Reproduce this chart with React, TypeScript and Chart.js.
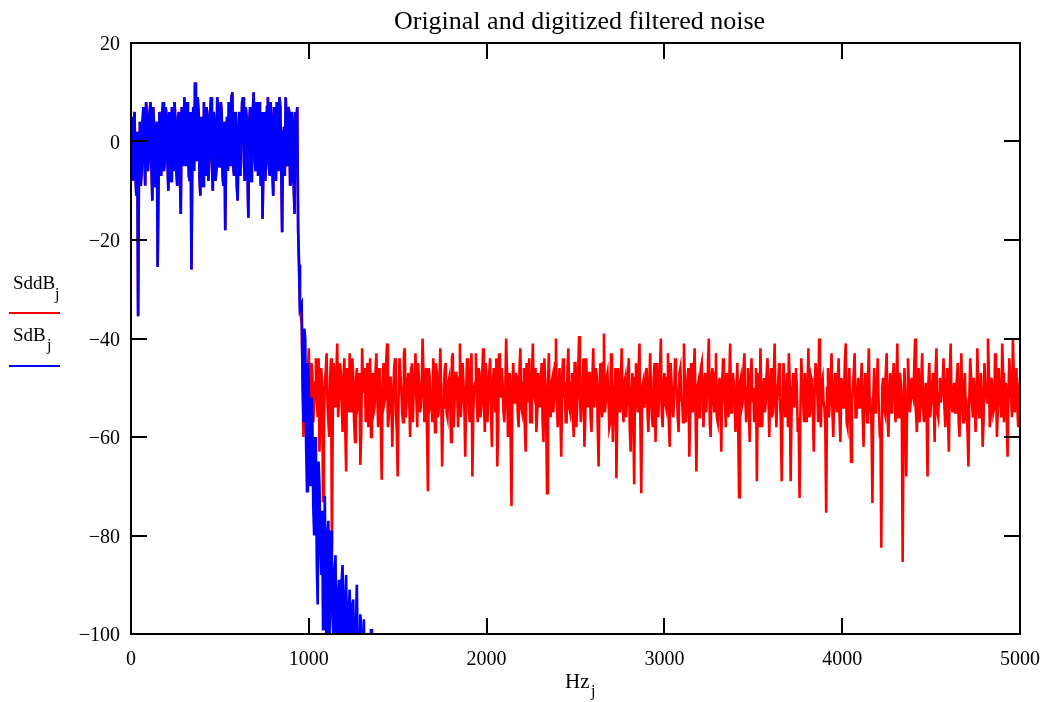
import React, { useEffect, useRef } from "react";
import { Chart, registerables } from "chart.js";

Chart.register(...registerables);

// frequency grid (Hz): main samples at START + j*STEP, mid samples half a step later
const HZ_STEP = 10;
const PASS_START = 0;
const TAIL_START = 960;

// shared passband values 0..950 Hz (dB)
const passbandDB = [
  2, -8, 6, -11, -35.5, 4, -6, 7, -9, 5,
  -3, 8, -12, 3, -5, -25.5, 6, -7, 8, -4,
  5, -10, 2, 7, -6, 4, -9, 6, -14.7, 3,
  9, -5, 5, -8, -26, 7, 12, -4, 6, -11,
  3, 8, -7, 5, -3, 9, -10, 4, -6, 7,
  -2, 6, -9, -18, 5, 8, -5, 10, -7, 4,
  -12, 6, 2, 9, -8, 5, -15.5, 7, -4, 10,
  -6, 3, 8, -9, -15.7, 6, -3, 9, -7, 5,
  -11, 4, 8, -6, 7, -18.4, 3, 9, -5, 6,
  -8, 4, -14.7, 4, -18, -34,
];
// passband values at 5..945 Hz
const passbandMidDB = [
  5, 3, -7, 2, -4, -9, 4, -3, 8, -6,
  6, -5, 7, -9, 4, -8, 3, 5, -6, 7,
  -4, 6, -8, -3, 8, -6, 5, -7, 7, -5,
  -2, 8, -7, 6, -3, -6, 4, 9, -7, 5,
  -9, -2, 7, -8, 6, -4, 6, -8, 9, -5,
  8, -7, 4, -2, -6, 3, 9, -5, 6, -9,
  3, -7, 8, -4, 7, -6, 4, -8, 6, -3,
  8, -7, -2, 6, -4, -8, 7, -5, 8, -6,
  7, -8, -3, 9, -5, 2, -7, 4, 7, -9,
  6, -9, 6, 7, -25,
];

// SdB (original) after the cutoff, 960..1360 Hz
const sdbTail = [
  -33, -57, -40, -71, -50, -70, -56, -80, -63, -94,
  -70, -88, -99, -72, -104, -77, -97, -85, -108, -84,
  -102, -89, -110, -86, -104, -88, -112, -91, -106, -93,
  -115, -90, -108, -96, -118, -97, -110, -100, -120, -99,
  -115,
];
// SdB at 965..1355 Hz
const sdbTailMid = [
  -48, -38, -62, -45, -66, -52, -74, -60, -86, -65,
  -82, -75, -92, -90, -80, -101, -79, -95, -87, -98,
  -92, -100, -89, -107, -92, -103, -95, -109, -94, -112,
  -98, -102, -110, -99, -104, -115, -101, -113, -104, -125,
];

const sddbTail = [
  -37, -60, -45, -55, -42, -58, -47, -53, -44, -56, -63, -46, -73, -49, -43, -57, -48, -82.5, -45, -54,
  -41, -52, -47, -59, -44, -67, -50, -43, -55, -48, -61, -46, -53, -65.7, -42, -51, -57, -45, -49, -60,
  -47, -54, -43, -58, -49, -68.7, -45, -52, -41, -56, -48, -62, -46, -55, -68, -44, -50, -57, -42, -53,
  -47, -60, -45, -51, -43, -58, -49, -54, -40, -57, -46, -71, -48, -52, -44, -59, -47, -55, -42, -66,
  -50, -45, -56, -48, -61, -43, -53, -47, -58, -41, -52, -49, -64, -44, -55, -46, -68, -50, -43, -57,
  -47, -54, -42, -59, -48, -51, -44, -62, -46, -55, -66, -43, -52, -49, -57, -40, -60, -47, -74, -45,
  -53, -48, -58, -42, -55, -46, -63, -50, -44, -57, -41, -52, -59, -47, -54, -45, -61, -49, -71.4, -43,
  -56, -48, -52, -40, -58, -46, -64, -44, -51, -57, -42, -55, -47, -60, -45, -53, -39.5, -57, -49, -62,
  -44, -54, -47, -59, -42, -51, -48, -66, -45, -56, -39, -53, -47, -58, -43, -61, -50, -68.4, -46, -55,
  -42, -57, -48, -52, -44, -63, -47, -69.6, -45, -55, -41, -71.4, -49, -53, -46, -59, -43, -56, -48, -61,
  -45, -52, -40, -58, -47, -54, -43, -62, -49, -56, -44, -51, -59, -46, -53, -41, -57, -48, -64, -45,
  -55, -42, -67, -49, -53, -45, -58, -47, -51, -40, -60, -46, -55, -43, -57, -48, -63, -44, -52, -47,
  -56, -41, -54, -49, -59, -45, -72.2, -48, -53, -43, -57, -46, -61, -44, -50, -55, -69, -47, -42, -58,
  -48, -53, -44, -60, -46, -55, -41, -58, -49, -52, -69, -45, -56, -47, -43, -69, -50, -54, -46, -59,
  -72.4, -44, -52, -47, -57, -42, -55, -49, -63, -45, -51, -40, -58, -48, -54, -75.4, -46, -53, -43, -60,
  -47, -55, -44, -61, -49, -52, -41, -58, -46, -65, -50, -43, -56, -48, -53, -45, -62, -47, -57, -42,
  -54, -73.4, -46, -52, -44, -58, -82.5, -48, -55, -43, -60, -47, -53, -45, -57, -41, -56, -49, -85.4, -46,
  -68, -44, -55, -48, -52, -40, -59, -46, -54, -43, -57, -49, -68, -45, -53, -47, -61, -42, -56, -48,
  -51, -44, -58, -46, -63, -41, -55, -49, -52, -45, -60, -43, -57, -47, -54, -66, -44, -53, -48, -59,
  -42, -56, -47, -62, -45, -51, -40, -58, -48, -55, -43, -60, -46, -53, -41, -57, -49, -64, -44, -52,
  -40, -55, -46, -58, -48,
];
// SddB at 965..4995 Hz
const sddbTailMid = [
  -48, -52, -58, -47, -54, -45, -57, -49, -52, -44, -55, -50, -58, -47, -53, -60, -44, -55, -51, -47,
  -56, -45, -53, -48, -58, -46, -55, -51, -44, -57, -49, -54, -47, -59, -50, -46, -53, -58, -44, -52,
  -55, -47, -51, -46, -57, -50, -53, -45, -58, -48, -54, -51, -44, -59, -52, -47, -55, -43, -56, -49,
  -53, -46, -57, -48, -52, -45, -55, -50, -47, -54, -59, -46, -53, -57, -49, -45, -56, -48, -52, -54,
  -46, -55, -49, -53, -44, -58, -47, -52, -48, -56, -45, -54, -51, -47, -57, -43, -55, -49, -53, -46,
  -56, -48, -53, -45, -57, -47, -55, -50, -52, -44, -58, -49, -46, -55, -51, -47, -54, -60, -49, -53,
  -47, -55, -46, -54, -49, -58, -45, -53, -57, -48, -51, -46, -55, -52, -48, -57, -44, -56, -50, -54,
  -49, -55, -45, -53, -50, -56, -48, -52, -57, -46, -54, -49, -55, -45, -58, -47, -51, -53, -44, -56,
  -52, -47, -56, -48, -54, -46, -58, -50, -53, -45, -55, -48, -52, -57, -49, -54, -46, -55, -51, -48,
  -54, -49, -56, -47, -58, -52, -55, -48, -51, -46, -57, -50, -54, -47, -55, -49, -52, -58, -45, -53,
  -56, -47, -55, -50, -53, -48, -57, -45, -54, -51, -49, -56, -47, -52, -57, -49, -54, -46, -55, -50,
  -48, -54, -50, -56, -46, -53, -49, -55, -45, -57, -48, -52, -47, -56, -51, -54, -49, -53, -58, -50,
  -48, -55, -47, -53, -51, -57, -49, -54, -46, -52, -50, -55, -48, -53, -57, -46, -52, -58, -51, -49,
  -55, -47, -52, -49, -56, -48, -53, -51, -45, -57, -52, -50, -54, -58, -49, -55, -47, -52, -50, -56,
  -55, -49, -57, -51, -50, -56, -48, -54, -51, -47, -57, -52, -49, -53, -58, -50, -56, -48, -55, -51,
  -52, -49, -56, -48, -54, -45, -57, -50, -55, -53, -47, -56, -51, -54, -49, -55, -51, -52, -48, -55,
  -58, -52, -55, -49, -53, -57, -50, -54, -47, -56, -51, -55, -48, -52, -49, -56, -47, -53, -57, -51,
  -54, -49, -53, -51, -46, -55, -51, -57, -48, -54, -52, -55, -49, -56, -50, -53, -47, -55, -51, -53,
  -49, -54, -50, -56, -47, -53, -51, -55, -48, -57, -49, -53, -50, -55, -59, -52, -48, -56, -51, -54,
  -50, -55, -52, -57, -49, -53, -47, -56, -51, -54, -48, -55, -50, -56, -47, -53, -55, -51, -49, -56,
  -47, -52, -54, -51,
];

const xTickValues = [0, 1000, 2000, 3000, 4000, 5000];
const yTickValues = [20, 0, -20, -40, -60, -80, -100];

const TITLE = "Original and digitized filtered noise";
const SERIF = '"Liberation Serif", "Times New Roman", serif';

function interleave(main: number[], mid: number[], start: number) {
  const pts: { x: number; y: number }[] = [];
  for (let i = 0; i < main.length; i++) {
    pts.push({ x: start + i * HZ_STEP, y: main[i] });
    if (i < mid.length) pts.push({ x: start + i * HZ_STEP + HZ_STEP / 2, y: mid[i] });
  }
  return pts;
}

function fmt(v: number) {
  return v < 0 ? "\u2212" + Math.abs(v) : String(v);
}

const decorPlugin = {
  id: "mathcadDecor",
  afterDraw(chart: any) {
    const ctx = chart.ctx as CanvasRenderingContext2D;
    const xs = chart.scales.x;
    const ys = chart.scales.y;
    const { left, right, top, bottom } = chart.chartArea;
    ctx.save();
    ctx.strokeStyle = "#000";
    ctx.lineWidth = 2;
    ctx.strokeRect(left, top, right - left, bottom - top);
    const TL = 16;
    ctx.beginPath();
    for (const v of xTickValues) {
      if (v === xs.min || v === xs.max) continue;
      const px = Math.round(xs.getPixelForValue(v));
      ctx.moveTo(px, top);
      ctx.lineTo(px, top + TL);
      ctx.moveTo(px, bottom);
      ctx.lineTo(px, bottom - TL);
    }
    for (const v of yTickValues) {
      if (v === ys.min || v === ys.max) continue;
      const py = Math.round(ys.getPixelForValue(v));
      ctx.moveTo(left, py);
      ctx.lineTo(left + TL, py);
      ctx.moveTo(right, py);
      ctx.lineTo(right - TL, py);
    }
    ctx.stroke();

    ctx.fillStyle = "#000";
    ctx.font = `20px ${SERIF}`;
    ctx.textBaseline = "alphabetic";
    ctx.textAlign = "right";
    for (const v of yTickValues) {
      const py = ys.getPixelForValue(v);
      ctx.fillText(fmt(v), left - 11, py + 7);
    }
    ctx.textAlign = "center";
    for (const v of xTickValues) {
      const px = xs.getPixelForValue(v);
      ctx.fillText(String(v), px, bottom + 31);
    }

    // x axis label
    ctx.textAlign = "left";
    ctx.font = `21px ${SERIF}`;
    ctx.fillText("Hz", 565, 688);
    ctx.font = `16px ${SERIF}`;
    ctx.fillText("j", 591, 696);

    // title
    ctx.textAlign = "center";
    ctx.font = `26px ${SERIF}`;
    ctx.fillText(TITLE, (left + right) / 2 + 4, 29);

    // legend
    ctx.textAlign = "left";
    ctx.font = `19px ${SERIF}`;
    ctx.fillText("SddB", 13, 289);
    ctx.fillText("SdB", 13, 341);
    ctx.font = `16px ${SERIF}`;
    ctx.fillText("j", 55, 299);
    ctx.fillText("j", 47, 350);
    ctx.lineWidth = 2;
    ctx.strokeStyle = "#ff0000";
    ctx.beginPath();
    ctx.moveTo(9, 313);
    ctx.lineTo(60, 313);
    ctx.stroke();
    ctx.strokeStyle = "#0000ff";
    ctx.beginPath();
    ctx.moveTo(9, 366);
    ctx.lineTo(60, 366);
    ctx.stroke();
    ctx.restore();
  },
};

export default function App() {
  const canvasRef = useRef<HTMLCanvasElement | null>(null);

  useEffect(() => {
    const canvas = canvasRef.current;
    if (!canvas) return;
    const pass = interleave(passbandDB, passbandMidDB, PASS_START);
    const redData = [...pass, ...interleave(sddbTail, sddbTailMid, TAIL_START)];
    const blueData = [...pass, ...interleave(sdbTail, sdbTailMid, TAIL_START)];
    const chart = new Chart(canvas, {
      type: "line",
      data: {
        datasets: [
          {
            label: "SddB",
            data: redData,
            borderColor: "#ff0000",
            borderWidth: 2.6,
            pointRadius: 0,
            tension: 0,
            order: 2,
          },
          {
            label: "SdB",
            data: blueData,
            borderColor: "#0000ff",
            borderWidth: 2.6,
            pointRadius: 0,
            tension: 0,
            order: 1,
          },
        ],
      },
      options: {
        animation: false,
        responsive: false,
        devicePixelRatio: 1,
        layout: { padding: { left: 131, right: 30, top: 43, bottom: 68 } },
        plugins: {
          legend: { display: false },
          title: { display: false },
          tooltip: { enabled: false },
        },
        scales: {
          x: { type: "linear", min: 0, max: 5000, display: false },
          y: { type: "linear", min: -100, max: 20, display: false },
        },
      },
      plugins: [decorPlugin],
    });
    return () => chart.destroy();
  }, []);

  return (
    <div style={{ position: "fixed", left: 0, top: 0, width: 1050, height: 702, background: "#fff" }}>
      <canvas ref={canvasRef} width={1050} height={702} style={{ width: 1050, height: 702, display: "block" }} />
    </div>
  );
}
